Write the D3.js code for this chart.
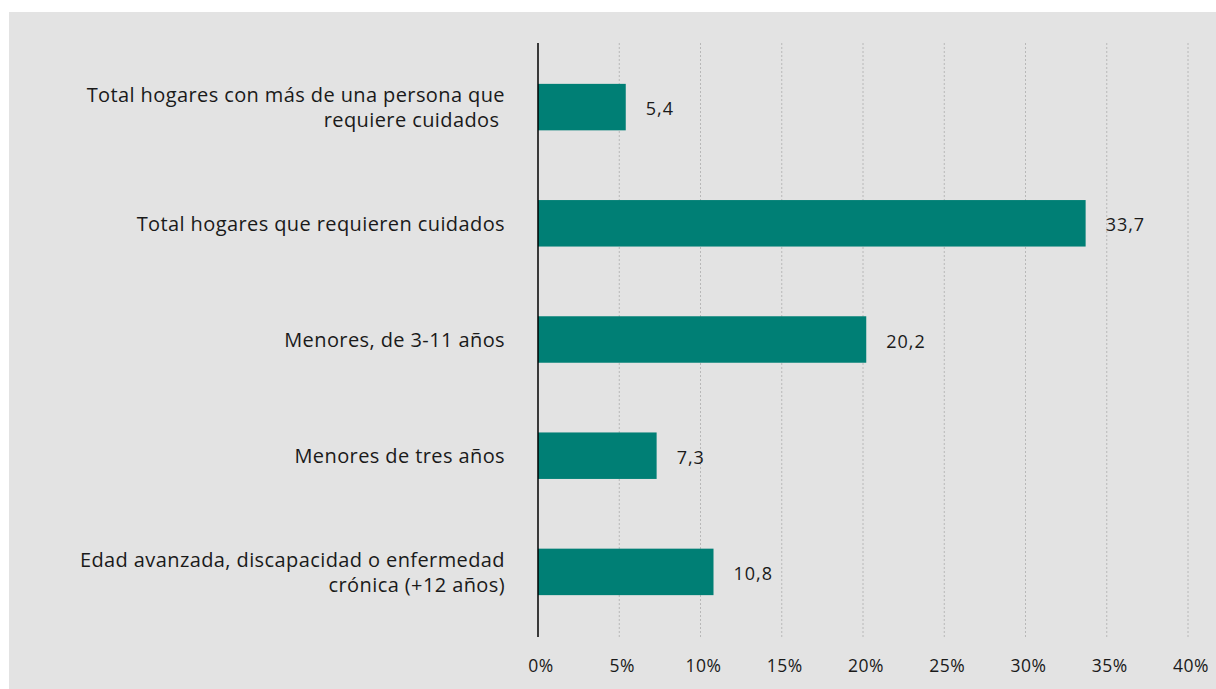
<!DOCTYPE html>
<html><head><meta charset="utf-8">
<script src="https://cdn.jsdelivr.net/npm/d3@7"></script>
<style>
html,body{margin:0;padding:0;background:#fff;}
text{font-family:"Open Sans",Lato,sans-serif;fill:#1a1a1a;font-weight:400;}
</style></head>
<body>
<svg id="c" width="1216" height="689"></svg>
<script>
const categories = [
  ["Total hogares con más de una persona que", "requiere cuidados "],
  ["Total hogares que requieren cuidados"],
  ["Menores, de 3-11 años"],
  ["Menores de tres años"],
  ["Edad avanzada, discapacidad o enfermedad", "crónica (+12 años)"]
];
const values = [5.4, 33.7, 20.2, 7.3, 10.8];
const valueLabels = ["5,4", "33,7", "20,2", "7,3", "10,8"];
const ticks = [0, 5, 10, 15, 20, 25, 30, 35, 40];

const svg = d3.select("#c");
svg.append("rect").attr("x", 9).attr("y", 12).attr("width", 1207).attr("height", 677).attr("fill", "#e3e3e3");

const x = d3.scaleLinear().domain([0, 40]).range([538, 1188]);
const y = d3.scaleBand().domain(d3.range(categories.length)).range([49, 630]).paddingInner(0.6).paddingOuter(0.3);

svg.append("g").selectAll("line").data(ticks.slice(1)).join("line")
  .attr("x1", d => x(d)).attr("x2", d => x(d))
  .attr("y1", 43).attr("y2", 637)
  .attr("stroke", "#b8b8b8").attr("stroke-width", 1).attr("stroke-dasharray", "2,2");

svg.append("g").selectAll("rect").data(values).join("rect")
  .attr("x", x(0)).attr("y", (d, i) => y(i))
  .attr("width", d => x(d) - x(0)).attr("height", y.bandwidth())
  .attr("fill", "#007f75");

svg.append("line").attr("x1", x(0)).attr("x2", x(0)).attr("y1", 43).attr("y2", 637)
  .attr("stroke", "#000").attr("stroke-width", 1.5);

svg.append("g").selectAll("text").data(values).join("text")
  .attr("x", d => x(d) + 20).attr("y", (d, i) => y(i) + y.bandwidth() / 2 + 1)
  .attr("dominant-baseline", "central").attr("font-size", 18).attr("letter-spacing", 1)
  .text((d, i) => valueLabels[i]);

const cl = svg.append("g");
categories.forEach((lines, i) => {
  const cy = y(i) + y.bandwidth() / 2;
  const n = lines.length;
  lines.forEach((ln, j) => {
    cl.append("text").attr("x", 505).attr("y", cy + (j - (n - 1) / 2) * 25)
      .attr("text-anchor", "end").attr("dominant-baseline", "central")
      .attr("font-size", 20).attr("letter-spacing", 0.4).style("white-space", "pre").text(ln);
  });
});

svg.append("g").selectAll("text").data(ticks).join("text")
  .attr("x", d => x(d) + 3).attr("y", 665).attr("text-anchor", "middle")
  .attr("dominant-baseline", "central").attr("font-size", 17.5).attr("letter-spacing", 0.5)
  .text(d => d + "%");
</script>
</body></html>
